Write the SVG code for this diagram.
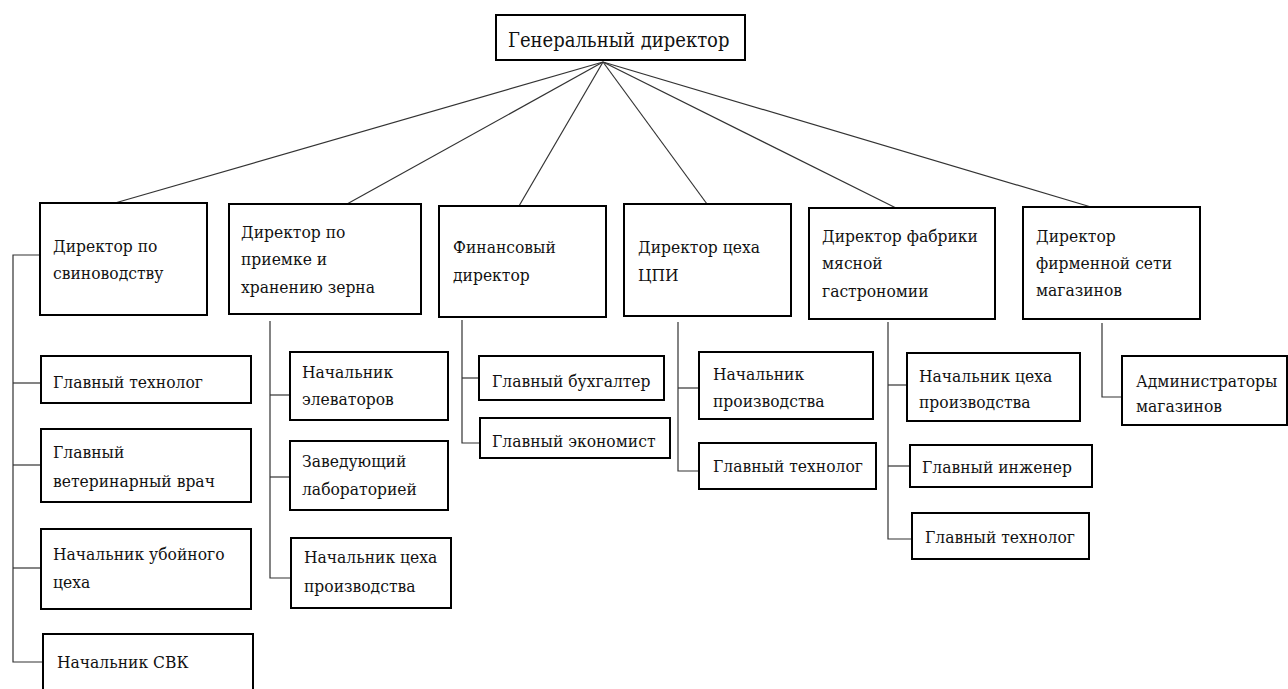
<svg xmlns="http://www.w3.org/2000/svg" width="1288" height="689" viewBox="0 0 1288 689">
<style>
.box{fill:#fff;stroke:#000;stroke-width:2}
.ln{fill:none;stroke:#333;stroke-width:1.2}
text{font-family:"DejaVu Serif Condensed","DejaVu Serif",serif;font-stretch:condensed;font-size:17.3px;fill:#111}
.title{font-size:20px}
</style>
<rect width="1288" height="689" fill="#fff"/>
<g id="connectors">
<line class="ln" x1="603" y1="62" x2="115" y2="203"/>
<line class="ln" x1="603" y1="62" x2="347" y2="204"/>
<line class="ln" x1="603" y1="62" x2="519" y2="206"/>
<line class="ln" x1="603" y1="62" x2="707" y2="204"/>
<line class="ln" x1="603" y1="62" x2="896" y2="208"/>
<line class="ln" x1="603" y1="62" x2="1091" y2="207"/>
<polyline class="ln" points="40,255 13,255 13,662 43,662"/>
<line class="ln" x1="13" y1="383" x2="41" y2="383"/>
<line class="ln" x1="13" y1="465" x2="41" y2="465"/>
<line class="ln" x1="13" y1="568" x2="41" y2="568"/>
<polyline class="ln" points="270,321 270,578 291,578"/>
<line class="ln" x1="270" y1="395" x2="290" y2="395"/>
<line class="ln" x1="270" y1="477" x2="290" y2="477"/>
<polyline class="ln" points="462,320 462,443 480,443"/>
<line class="ln" x1="462" y1="378" x2="479" y2="378"/>
<polyline class="ln" points="678,322 678,471 699,471"/>
<line class="ln" x1="678" y1="388" x2="699" y2="388"/>
<polyline class="ln" points="888,322 888,539 912,539"/>
<line class="ln" x1="888" y1="385" x2="907" y2="385"/>
<line class="ln" x1="888" y1="466" x2="910" y2="466"/>
<polyline class="ln" points="1102,323 1102,397 1122,397"/>
</g>
<g id="gen-dir"><rect class="box" x="496" y="15" width="249" height="45"/><text class="title" x="508" y="47">Генеральный директор</text></g>
<g id="dir-pig"><rect class="box" x="40" y="203" width="167" height="112"/><text x="53" y="252">Директор по</text><text x="53" y="279">свиноводству</text></g>
<g id="dir-grain"><rect class="box" x="229" y="204" width="192" height="110"/><text x="241" y="238">Директор по</text><text x="241" y="265">приемке и</text><text x="241" y="293">хранению зерна</text></g>
<g id="dir-fin"><rect class="box" x="439" y="206" width="167" height="111"/><text x="453" y="253">Финансовый</text><text x="453" y="281">директор</text></g>
<g id="dir-cpi"><rect class="box" x="624" y="204" width="167" height="112"/><text x="638" y="253">Директор цеха</text><text x="638" y="281">ЦПИ</text></g>
<g id="dir-meat"><rect class="box" x="809" y="208" width="186" height="111"/><text x="822" y="242">Директор фабрики</text><text x="822" y="269">мясной</text><text x="822" y="297">гастрономии</text></g>
<g id="dir-shops"><rect class="box" x="1023" y="207" width="177" height="112"/><text x="1036" y="242">Директор</text><text x="1036" y="269">фирменной сети</text><text x="1036" y="296">магазинов</text></g>
<g id="pig-tech"><rect class="box" x="41" y="356" width="210" height="47"/><text x="53" y="388">Главный технолог</text></g>
<g id="pig-vet"><rect class="box" x="41" y="429" width="210" height="73"/><text x="53" y="458">Главный</text><text x="53" y="487">ветеринарный врач</text></g>
<g id="pig-slaughter"><rect class="box" x="41" y="529" width="210" height="80"/><text x="53" y="560">Начальник убойного</text><text x="53" y="588">цеха</text></g>
<g id="pig-svk"><rect class="box" x="43" y="634" width="210" height="70"/><text x="57" y="668">Начальник СВК</text></g>
<g id="grain-elev"><rect class="box" x="290" y="352" width="158" height="68"/><text x="302" y="378">Начальник</text><text x="302" y="405">элеваторов</text></g>
<g id="grain-lab"><rect class="box" x="290" y="441" width="158" height="69"/><text x="302" y="467">Заведующий</text><text x="302" y="495">лабораторией</text></g>
<g id="grain-prod"><rect class="box" x="291" y="538" width="160" height="70"/><text x="304" y="563">Начальник цеха</text><text x="304" y="592">производства</text></g>
<g id="fin-acc"><rect class="box" x="479" y="356" width="185" height="44"/><text x="492" y="387">Главный бухгалтер</text></g>
<g id="fin-econ"><rect class="box" x="480" y="418" width="190" height="40"/><text x="492" y="447">Главный экономист</text></g>
<g id="cpi-prod"><rect class="box" x="699" y="352" width="174" height="67"/><text x="713" y="380">Начальник</text><text x="713" y="407">производства</text></g>
<g id="cpi-tech"><rect class="box" x="699" y="443" width="177" height="46"/><text x="713" y="472">Главный технолог</text></g>
<g id="meat-prod"><rect class="box" x="907" y="353" width="173" height="68"/><text x="919" y="382">Начальник цеха</text><text x="919" y="408">производства</text></g>
<g id="meat-eng"><rect class="box" x="910" y="445" width="182" height="42"/><text x="922" y="473">Главный инженер</text></g>
<g id="meat-tech"><rect class="box" x="912" y="513" width="177" height="46"/><text x="925" y="543">Главный технолог</text></g>
<g id="shops-admin"><rect class="box" x="1122" y="356" width="165" height="69"/><text x="1136" y="387">Администраторы</text><text x="1136" y="412">магазинов</text></g>
</svg>
